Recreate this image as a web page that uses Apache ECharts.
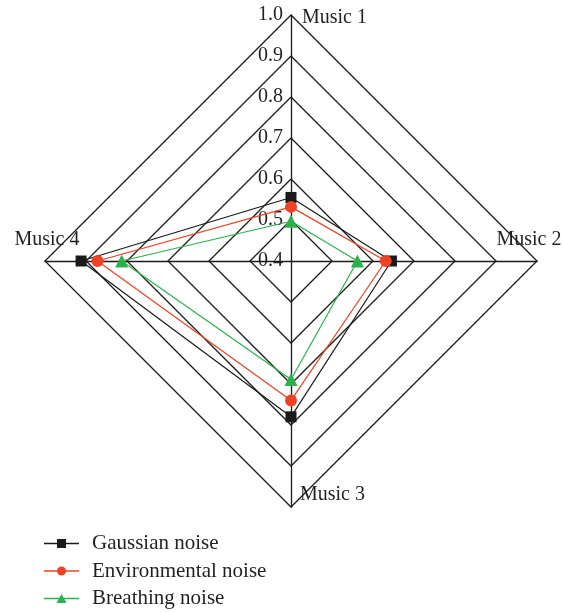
<!DOCTYPE html>
<html>
<head>
<meta charset="utf-8">
<script src="https://cdn.jsdelivr.net/npm/echarts@6/dist/echarts.min.js"></script>
<style>
  html, body { margin: 0; padding: 0; background: #fff; }
  #chart { width: 563px; height: 612px; }
</style>
</head>
<body>
<div id="chart"></div>
<script>
// Indicators, listed clockwise from the top
const musicNames = ['Music 1', 'Music 2', 'Music 3', 'Music 4'];
const tickLabels = ['0.4', '0.5', '0.6', '0.7', '0.8', '0.9', '1.0'];
const seriesNames = ['Gaussian noise', 'Environmental noise', 'Breathing noise'];
const gaussian = [0.555, 0.645, 0.78, 0.912];
const environmental = [0.532, 0.631, 0.74, 0.872];
const breathing = [0.497, 0.562, 0.689, 0.813];

const FONT = '"Liberation Serif", "Times New Roman", serif';
const TEXT = '#231f20';
const colors = ['#1a1a1a', '#ef4123', '#2bb24c'];
const symbols = ['rect', 'circle', 'triangle'];
const symbolSizes = [11, 12, 13];

// ECharts lays radar indicators counter-clockwise; reorder so they run clockwise
const order = [0, 3, 2, 1];
const axisMin = parseFloat(tickLabels[0]);
const axisMax = parseFloat(tickLabels[tickLabels.length - 1]);

const center = [291, 261];
const radius = 246;

const indicators = order.map((i, k) => {
  const ind = { name: musicNames[i], min: axisMin, max: axisMax };
  if (k === 0) {
    ind.axisLabel = {
      show: true, margin: 8,
      fontFamily: FONT, fontSize: 20, color: TEXT,
      formatter: v => v.toFixed(1)
    };
  }
  return ind;
});

const values = [gaussian, environmental, breathing];

// Legend icons: a short line with the series marker in the middle
const legendIcons = [
  'path://M0,3.8H35V5.2H0Z M13,0H22V9H13Z',
  'path://M0,3.8H35V5.2H0Z M22,4.5A4.5,4.5 0 1 1 13,4.5A4.5,4.5 0 1 1 22,4.5Z',
  'path://M0,3.8H35V5.2H0Z M17.5,0L22.5,9L12.5,9Z'
];

// Name placement relative to each vertex (clockwise from the top)
const nameOffsets = [[11, 3, 'left'], [-8, -21, 'center'], [9, -12, 'left'], [2, -21, 'center']];
const nameGraphics = musicNames.map((n, k) => {
  const a = k * Math.PI / 2;
  const vx = center[0] + radius * Math.sin(a);
  const vy = center[1] - radius * Math.cos(a);
  return {
    type: 'text',
    x: vx + nameOffsets[k][0],
    y: vy + nameOffsets[k][1],
    style: {
      text: n, fill: TEXT, font: '20px ' + FONT,
      textAlign: nameOffsets[k][2], textVerticalAlign: 'middle'
    }
  };
});

const chart = echarts.init(document.getElementById('chart'), null, { renderer: 'canvas' });
chart.setOption({
  animation: false,
  backgroundColor: '#fff',
  legend: {
    orient: 'vertical',
    left: 44,
    top: 533,
    height: 90,
    itemWidth: 35,
    itemHeight: 9,
    itemGap: 6.5,
    padding: 0,
    data: seriesNames.map((n, i) => ({ name: n, icon: legendIcons[i] })),
    textStyle: { fontFamily: FONT, fontSize: 21, color: TEXT, padding: [0, 0, 0, 8] }
  },
  radar: {
    center: center,
    radius: radius,
    shape: 'polygon',
    startAngle: 90,
    splitNumber: tickLabels.length - 1,
    indicator: indicators,
    axisName: { show: false },
    axisLine: { lineStyle: { color: '#1a1a1a', width: 1.3 } },
    splitLine: { lineStyle: { color: '#1a1a1a', width: 1.3 } },
    splitArea: { show: false },
    axisTick: { show: false },
    axisLabel: { show: false }
  },
  series: seriesNames.map((n, i) => ({
    type: 'radar',
    name: n,
    symbol: symbols[i],
    symbolSize: symbolSizes[i],
    itemStyle: { color: colors[i] },
    lineStyle: { color: colors[i], width: 1.2 },
    z: 2 + i,
    data: [{ name: n, value: order.map(j => values[i][j]) }]
  })),
  graphic: nameGraphics
});
</script>
</body>
</html>
